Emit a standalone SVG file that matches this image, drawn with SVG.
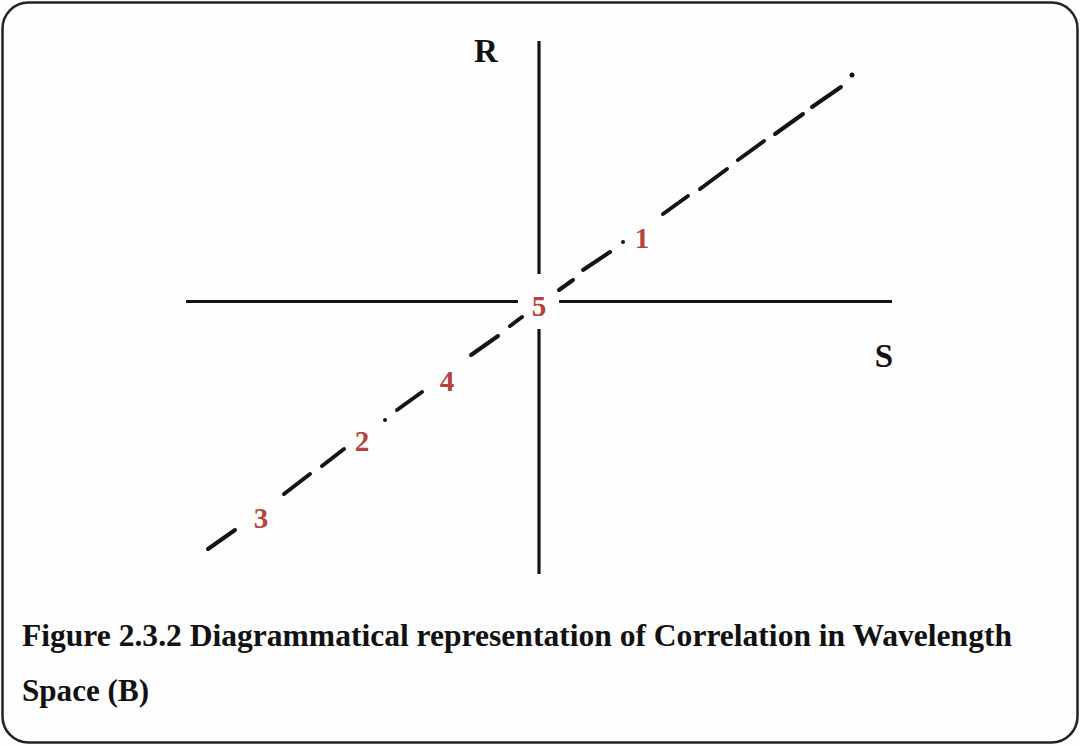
<svg xmlns="http://www.w3.org/2000/svg" width="1080" height="746" viewBox="0 0 1080 746">
<style>
.axis{stroke:#141414;stroke-width:3.2;fill:none}
.dash{stroke:#141414;stroke-width:4;stroke-linecap:round;fill:none}
.lbl{font-family:'Liberation Serif','Times New Roman',Times,serif;font-weight:700;fill:#111;font-size:33px}
.num{font-family:'Liberation Serif','Times New Roman',Times,serif;font-weight:700;fill:#b5443c;font-size:29px}
.cap{font-family:'Liberation Serif','Times New Roman',Times,serif;font-weight:700;fill:#111;font-size:31px}
</style>
<rect x="0" y="0" width="1080" height="746" fill="#fdfdfd"/>
<rect x="2.5" y="2.5" width="1075" height="740" rx="26" ry="26" fill="none" stroke="#222" stroke-width="2.5"/>
<g id="axes">
<line class="axis" x1="539" y1="41" x2="539" y2="274"/>
<line class="axis" x1="539" y1="329" x2="539" y2="574"/>
<line class="axis" x1="186" y1="301.5" x2="518" y2="301.5"/>
<line class="axis" x1="559" y1="301.5" x2="892" y2="301.5"/>
</g>
<g id="connectors">
<line class="dash" x1="208" y1="549" x2="235" y2="530"/>
<line class="dash" x1="284" y1="494" x2="310" y2="474"/>
<line class="dash" x1="322" y1="466" x2="344" y2="449"/>
<circle cx="385" cy="420" r="2" fill="#141414"/>
<line class="dash" x1="397" y1="410" x2="422" y2="392"/>
<line class="dash" x1="471" y1="355" x2="498" y2="336"/>
<line class="dash" x1="510" y1="326" x2="522" y2="317"/>
<line class="dash" x1="559" y1="290" x2="573" y2="280"/>
<line class="dash" x1="583" y1="270" x2="610" y2="252"/>
<circle cx="623" cy="242" r="2" fill="#141414"/>
<line class="dash" x1="663" y1="214" x2="688" y2="196"/>
<line class="dash" x1="700" y1="189" x2="727" y2="169"/>
<line class="dash" x1="738" y1="160" x2="764" y2="141"/>
<line class="dash" x1="775" y1="134" x2="803" y2="114"/>
<line class="dash" x1="812" y1="107" x2="841" y2="87"/>
<circle cx="852" cy="75" r="2.5" fill="#141414"/>
</g>
<g id="axis-R"><text class="lbl" x="486" y="62" text-anchor="middle">R</text></g>
<g id="axis-S"><text class="lbl" x="884" y="367" text-anchor="middle">S</text></g>
<g id="point-1"><text class="num" x="642" y="248" text-anchor="middle">1</text></g>
<g id="point-2"><text class="num" x="362" y="451" text-anchor="middle">2</text></g>
<g id="point-3"><text class="num" x="261" y="528" text-anchor="middle">3</text></g>
<g id="point-4"><text class="num" x="447" y="391" text-anchor="middle">4</text></g>
<g id="point-5"><text class="num" x="539" y="316" text-anchor="middle">5</text></g>
<g id="caption">
<text class="cap" x="22" y="646" textLength="990" lengthAdjust="spacingAndGlyphs">Figure 2.3.2 Diagrammatical representation of Correlation in Wavelength</text>
<text class="cap" x="22" y="701" textLength="127" lengthAdjust="spacingAndGlyphs">Space (B)</text>
</g>
</svg>
